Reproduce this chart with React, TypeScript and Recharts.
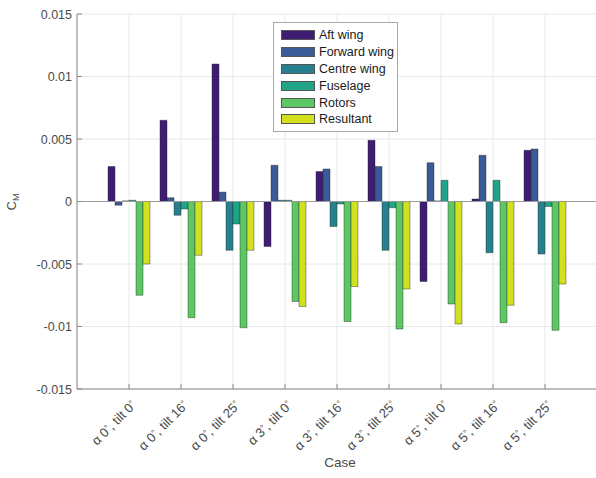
import React from "react";
import {
  BarChart,
  Bar,
  XAxis,
  YAxis,
  CartesianGrid,
  ReferenceLine,
} from "recharts";

const caseLabels = [
  "α 0°, tilt 0°",
  "α 0°, tilt 16°",
  "α 0°, tilt 25°",
  "α 3°, tilt 0°",
  "α 3°, tilt 16°",
  "α 3°, tilt 25°",
  "α 5°, tilt 0°",
  "α 5°, tilt 16°",
  "α 5°, tilt 25°",
];

const aftWing = [0.0028, 0.0065, 0.011, -0.0036, 0.0024, 0.0049, -0.0064, 0.0002, 0.0041];
const forwardWing = [-0.0003, 0.0003, 0.00075, 0.0029, 0.0026, 0.0028, 0.0031, 0.0037, 0.0042];
const centreWing = [0.00005, -0.0011, -0.0039, 0.0001, -0.002, -0.0039, 0.00005, -0.0041, -0.0042];
const fuselage = [0.0001, -0.0006, -0.0018, 0.0001, -0.0002, -0.0005, 0.0017, 0.0017, -0.0004];
const rotors = [-0.0075, -0.0093, -0.0101, -0.008, -0.0096, -0.0102, -0.0082, -0.0097, -0.0103];
const resultant = [-0.005, -0.0043, -0.0039, -0.0084, -0.0068, -0.007, -0.0098, -0.0083, -0.0066];

const yTicks = [-0.015, -0.01, -0.005, 0, 0.005, 0.01, 0.015];

const seriesNames = ["Aft wing", "Forward wing", "Centre wing", "Fuselage", "Rotors", "Resultant"];
const seriesColors = ["#3f1d72", "#3a5a98", "#27808d", "#20a488", "#5dc863", "#d1e11c"];
const seriesValues = [aftWing, forwardWing, centreWing, fuselage, rotors, resultant];

const data = caseLabels.map((name, i) => {
  const row: Record<string, number | string> = { name };
  seriesNames.forEach((s, k) => {
    row[s] = seriesValues[k][i];
  });
  return row;
});

const FONT = "'Liberation Sans', Arial, sans-serif";
const axisColor = "#8a8a8a";
const textColor = "#4a4a4a";

const fmt = (v: number) => String(Number(v.toFixed(3)));

// split on degree sign so it can be drawn raised
const labelParts = (s: string) => {
  const out: React.ReactNode[] = [];
  s.split("°").forEach((part, i, arr) => {
    out.push(<tspan key={`p${i}`} dy={i === 0 ? 0 : 3}>{part}</tspan>);
    if (i < arr.length - 1) {
      out.push(
        <tspan key={`d${i}`} dy={-3} fontSize={9}>
          °
        </tspan>
      );
    }
  });
  return out;
};

const XTick = (props: any) => {
  const { x, y, payload } = props;
  const ax = x + 8;
  const ay = y + 17;
  return (
    <g>
      <line x1={x} x2={x} y1={y} y2={y - 5} stroke={axisColor} />
      <text
        x={ax}
        y={ay}
        textAnchor="end"
        fontSize={13}
        fill={textColor}
        fontFamily={FONT}
        transform={`rotate(-45, ${ax}, ${ay})`}
      >
        {labelParts(payload.value)}
      </text>
    </g>
  );
};

const TopTick = (props: any) => {
  const { x, y } = props;
  return <line x1={x} x2={x} y1={y} y2={y + 5} stroke={axisColor} />;
};

const YTick = (props: any) => {
  const { x, y, payload } = props;
  return (
    <g>
      <line x1={x} x2={x + 5} y1={y} y2={y} stroke={axisColor} />
      <text
        x={x - 5}
        y={y}
        dy={4.5}
        textAnchor="end"
        fontSize={12.5}
        fill={textColor}
        fontFamily={FONT}
      >
        {fmt(payload.value)}
      </text>
    </g>
  );
};

const App: React.FC = () => {
  return (
    <div
      style={{
        position: "absolute",
        left: 0,
        top: 0,
        width: 596,
        height: 478,
        overflow: "hidden",
        background: "#fff",
        fontFamily: FONT,
      }}
    >
      <BarChart
        width={600}
        height={478}
        data={data}
        margin={{ top: 14, right: 3, left: 0, bottom: 0 }}
        barCategoryGap={5}
        barGap={0}
      >
        <CartesianGrid stroke="#e8e8e8" />
        <XAxis
          dataKey="name"
          xAxisId={0}
          height={89}
          padding={{ left: 26, right: 26 }}
          stroke={axisColor}
          tickLine={false}
          tickSize={0}
          tickMargin={0}
          interval={0}
          tick={<XTick />}
          label={{
            content: (p: any) => {
              const vb = p.viewBox || {};
              return (
                <text
                  x={vb.x + vb.width / 2 + 3}
                  y={vb.y + 78}
                  textAnchor="middle"
                  fontSize={13.5}
                  fill={textColor}
                  fontFamily={FONT}
                >
                  Case
                </text>
              );
            },
          }}
        />
        <XAxis
          dataKey="name"
          xAxisId="top"
          orientation="top"
          height={0}
          padding={{ left: 26, right: 26 }}
          stroke={axisColor}
          tickLine={false}
          tickSize={0}
          tickMargin={0}
          interval={0}
          tick={<TopTick />}
        />
        <YAxis
          width={77}
          domain={[-0.015, 0.015]}
          ticks={yTicks}
          stroke={axisColor}
          tickLine={false}
          tickSize={0}
          tickMargin={0}
          tick={<YTick />}
          label={{
            content: () => (
              <text
                x={16}
                y={202}
                textAnchor="middle"
                fontSize={13}
                fill={textColor}
                fontFamily={FONT}
                transform="rotate(-90, 16, 202)"
              >
                C
                <tspan fontSize={9} dy={3}>
                  M
                </tspan>
              </text>
            ),
          }}
        />
        <ReferenceLine y={0} stroke="#9a9a9a" />
        {seriesNames.map((s, k) => (
          <Bar
            key={s}
            dataKey={s}
            fill={seriesColors[k]}
            stroke="#2a2a2a"
            strokeOpacity={0.6}
            strokeWidth={0.7}
            isAnimationActive={false}
          />
        ))}
      </BarChart>
      <div
        style={{
          position: "absolute",
          left: 273,
          top: 22,
          width: 125,
          boxSizing: "border-box",
          border: "1px solid #a8a8a8",
          background: "#fff",
          padding: "4px 0 3px 7px",
        }}
      >
        {seriesNames.map((s, k) => (
          <div
            key={s}
            style={{ display: "flex", alignItems: "center", height: 16.8 }}
          >
            <div
              style={{
                width: 34,
                height: 10,
                background: seriesColors[k],
                border: "1px solid #555",
                boxSizing: "border-box",
                marginRight: 4,
              }}
            />
            <span style={{ fontSize: 12.5, color: "#1a1a1a", whiteSpace: "nowrap" }}>{s}</span>
          </div>
        ))}
      </div>
    </div>
  );
};

export default App;
